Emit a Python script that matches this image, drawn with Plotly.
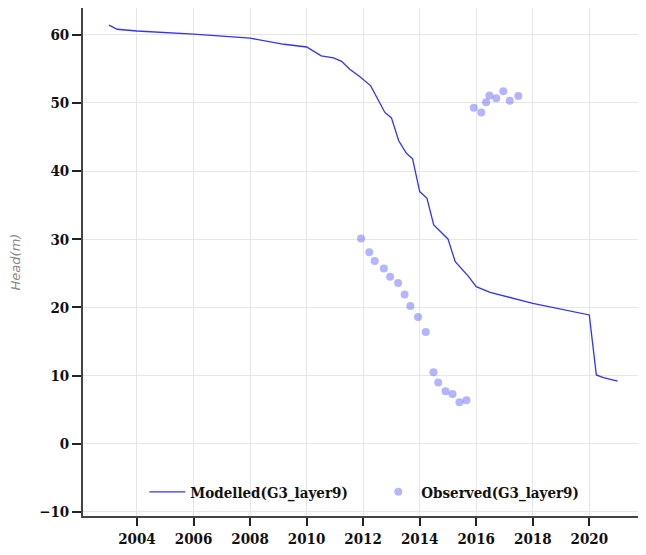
import plotly.graph_objects as go

# modelled head, G3 layer 9
model_dates = [
    "2003-01-05", "2003-04-20", "2004-01-01", "2006-01-01", "2008-01-01",
    "2008-07-01", "2009-03-15", "2010-01-01", "2010-07-08", "2010-12-15",
    "2011-03-28", "2011-07-16", "2011-11-25", "2012-04-08", "2012-10-08",
    "2013-01-01", "2013-04-05", "2013-07-13", "2013-10-01", "2014-01-01",
    "2014-04-05", "2014-07-01", "2015-01-01", "2015-04-05", "2015-09-20",
    "2016-01-01", "2016-06-28", "2018-01-01", "2020-01-01", "2020-04-01",
    "2020-07-01", "2021-01-01",
]
model_head = [
    61.4, 60.8, 60.55, 60.1, 59.5,
    59.1, 58.6, 58.2, 56.9, 56.6,
    56.1, 54.9, 53.8, 52.5, 48.6,
    47.8, 44.45, 42.6, 41.8, 37.0,
    36.0, 32.1, 30.05, 26.7, 24.6,
    23.05, 22.2, 20.6, 18.9, 10.1,
    9.7, 9.2,
]

# observed head
obs_dates = [
    "2011-12-05", "2012-03-20", "2012-05-30", "2012-09-25", "2012-12-15",
    "2013-03-28", "2013-06-20", "2013-09-02", "2013-12-10", "2014-03-20",
    "2014-06-28", "2014-08-28", "2014-12-01", "2015-03-01", "2015-05-30",
    "2015-08-28", "2015-12-01", "2016-03-06", "2016-05-08", "2016-06-20",
    "2016-09-16", "2016-12-16", "2017-03-10", "2017-06-28",
]
obs_head = [
    30.1, 28.1, 26.8, 25.7, 24.5,
    23.6, 21.9, 20.2, 18.6, 16.4,
    10.5, 9.0, 7.7, 7.3, 6.1,
    6.4, 49.3, 48.6, 50.1, 51.1,
    50.7, 51.7, 50.3, 51.0,
]

tick_font = dict(family="DejaVu Serif Condensed", size=15, color="#111111", weight="bold")

fig = go.Figure()
fig.add_trace(go.Scatter(
    x=model_dates, y=model_head, mode="lines", name="Modelled(G3_layer9)",
    line=dict(color="rgb(50,50,255)", width=1.3),
))
fig.add_trace(go.Scatter(
    x=obs_dates, y=obs_head, mode="markers", name="Observed(G3_layer9)",
    marker=dict(color="rgba(90,90,255,0.45)", size=8),
))

# the page body adds 8px, so the figure is a bit smaller than the window
fig.update_layout(
    width=638, height=547,
    margin=dict(l=75, r=3, t=0, b=39),
    plot_bgcolor="white", paper_bgcolor="white",
    font=tick_font,
    showlegend=True,
    legend=dict(
        orientation="h", x=0.522, xanchor="center", y=0.047, yanchor="middle",
        bgcolor="rgba(0,0,0,0)", font=tick_font, itemwidth=36,
        entrywidth=180, entrywidthmode="pixels",
    ),
)
fig.update_xaxes(
    type="date", range=["2002-02-03", "2021-11-25"],
    tick0="2004-01-01", dtick="M24", tickformat="%Y",
    showgrid=True, gridcolor="#e6e6e6", gridwidth=1,
    showline=True, linecolor="#444444", linewidth=1.5,
    ticks="outside", ticklen=8, tickcolor="#222222", tickwidth=1.5,
    tickfont=tick_font, zeroline=False,
)
fig.update_yaxes(
    range=[-10.59, 63.92], tickvals=[-10, 0, 10, 20, 30, 40, 50, 60],
    showgrid=True, gridcolor="#e6e6e6", gridwidth=1,
    showline=True, linecolor="#444444", linewidth=1.5,
    ticks="outside", ticklen=9, tickcolor="#222222", tickwidth=1.5,
    tickfont=tick_font, zeroline=False,
    title=dict(text="Head(m)", standoff=22,
               font=dict(family="DejaVu Sans", size=13, color="#888888",
                         style="italic", weight="normal")),
)

fig.write_html("out.html")
